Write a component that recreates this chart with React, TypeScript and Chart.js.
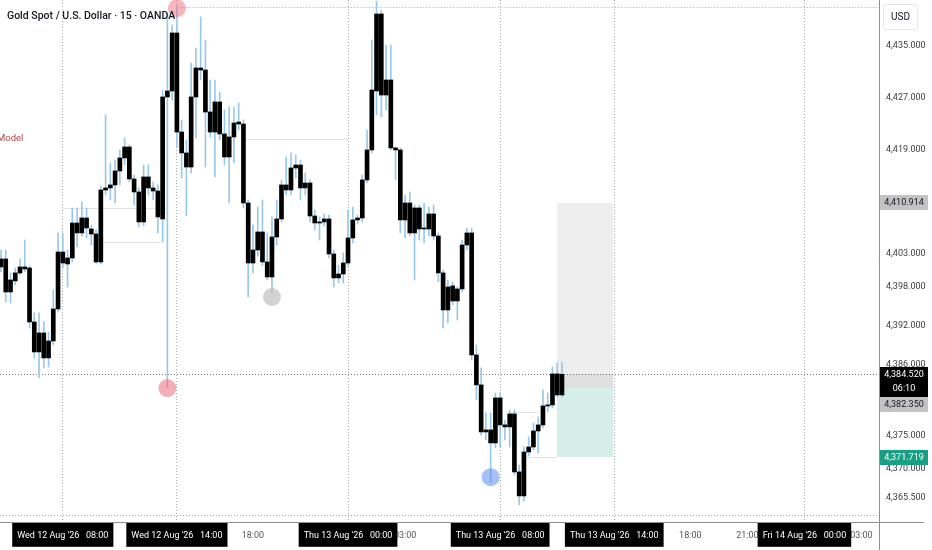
import React, { useEffect, useRef } from "react";
import { Chart, registerables } from "chart.js";

Chart.register(...registerables);

// ---- candle data (15 min, Gold Spot / USD) ----
const opens = [
  4401.02, 4402.25, 4397.17, 4398.87, 4400.10, 4401.02, 4400.86, 4392.56, 4387.95, 4390.87,
  4387.03, 4389.64, 4394.56, 4403.32, 4401.48, 4402.40, 4407.78, 4406.25, 4408.55, 4406.86,
  4406.09, 4401.79, 4412.86, 4413.17, 4413.63, 4415.78, 4417.78, 4419.47, 4414.55, 4412.55,
  4407.94, 4414.86, 4413.17, 4412.70, 4408.40, 4427.16, 4428.08, 4437.00, 4421.77, 4418.55,
  4416.39, 4427.16, 4431.62, 4431.31, 4424.85, 4421.77, 4426.39, 4421.47, 4417.93, 4421.01,
  4423.00, 4423.00, 4410.86, 4401.63, 4403.63, 4406.40, 4401.79, 4399.48, 4405.63, 4408.40,
  4413.63, 4412.86, 4416.24, 4416.70, 4413.17, 4413.93, 4408.86, 4407.78, 4407.94, 4408.40,
  4403.02, 4399.33, 4399.94, 4401.63, 4405.48, 4408.25, 4408.55, 4414.40, 4419.01, 4428.08,
  4439.92, 4427.46, 4429.77, 4419.32, 4419.01, 4408.25, 4410.86, 4406.25, 4410.09, 4406.86,
  4406.86, 4409.17, 4405.78, 4400.10, 4394.41, 4398.10, 4395.79, 4397.64, 4404.40, 4406.25,
  4387.49, 4382.88, 4375.65, 4375.96, 4373.96, 4380.88, 4376.73, 4376.42, 4378.42, 4369.50,
  4365.81, 4372.57, 4373.34, 4375.80, 4376.73, 4379.65, 4379.80, 4384.57, 4381.34,
];
const closes = [
  4402.25, 4397.17, 4399.02, 4400.10, 4401.02, 4400.71, 4392.56, 4387.95, 4390.87, 4387.03,
  4389.64, 4394.56, 4403.32, 4401.63, 4402.40, 4407.78, 4406.25, 4408.55, 4407.01, 4406.09,
  4401.79, 4412.86, 4413.17, 4413.63, 4415.78, 4417.78, 4419.47, 4414.55, 4412.55, 4407.94,
  4414.86, 4413.17, 4412.70, 4408.71, 4427.16, 4428.08, 4437.00, 4421.77, 4418.55, 4416.39,
  4427.16, 4431.62, 4431.31, 4424.85, 4421.77, 4426.39, 4421.47, 4417.93, 4421.01, 4423.16,
  4423.31, 4410.86, 4401.63, 4403.63, 4406.40, 4401.79, 4399.48, 4405.63, 4408.40, 4413.63,
  4412.86, 4416.24, 4416.70, 4413.17, 4413.93, 4408.86, 4407.78, 4407.94, 4408.40, 4403.02,
  4399.33, 4399.94, 4401.63, 4405.48, 4408.25, 4408.55, 4414.40, 4419.01, 4428.23, 4439.92,
  4427.46, 4429.77, 4419.32, 4419.01, 4408.25, 4410.86, 4406.25, 4410.09, 4406.86, 4407.01,
  4409.17, 4405.78, 4400.10, 4394.41, 4397.94, 4395.79, 4397.64, 4404.40, 4406.25, 4387.49,
  4382.88, 4375.65, 4375.96, 4373.96, 4380.88, 4376.73, 4376.42, 4378.42, 4369.50, 4365.81,
  4372.57, 4373.34, 4375.80, 4376.73, 4379.65, 4379.80, 4384.57, 4381.34, 4384.52,
];
const highs = [
  4403.63, 4403.63, 4400.10, 4400.86, 4402.25, 4405.17, 4401.17, 4393.95, 4393.95, 4392.56,
  4391.03, 4397.48, 4406.25, 4406.25, 4403.63, 4410.09, 4410.09, 4411.01, 4410.09, 4407.48,
  4406.71, 4413.47, 4424.39, 4417.01, 4417.47, 4419.01, 4420.85, 4419.78, 4415.16, 4413.17,
  4416.70, 4416.70, 4414.09, 4413.63, 4428.23, 4440.07, 4438.23, 4441.30, 4423.62, 4420.55,
  4432.38, 4434.69, 4439.46, 4435.92, 4429.77, 4429.77, 4427.92, 4425.16, 4425.62, 4425.62,
  4426.23, 4423.62, 4411.32, 4407.48, 4410.24, 4411.32, 4406.25, 4408.71, 4411.32, 4414.40,
  4417.93, 4418.55, 4418.24, 4417.47, 4415.47, 4414.40, 4409.78, 4408.71, 4409.17, 4409.01,
  4403.63, 4401.33, 4403.17, 4409.78, 4410.24, 4409.01, 4415.16, 4422.08, 4435.92, 4441.90,
  4440.53, 4435.15, 4435.15, 4419.47, 4419.32, 4412.09, 4412.55, 4410.55, 4410.55, 4410.86,
  4410.24, 4410.55, 4406.25, 4400.56, 4399.02, 4398.71, 4397.94, 4405.17, 4407.01, 4407.01,
  4389.03, 4385.49, 4378.57, 4378.57, 4381.65, 4381.65, 4377.49, 4379.03, 4379.03, 4370.58,
  4373.34, 4374.88, 4377.03, 4377.96, 4382.11, 4381.65, 4385.64, 4386.26, 4386.41,
];
const lows = [
  4400.25, 4395.64, 4395.48, 4398.25, 4399.79, 4400.25, 4391.64, 4387.03, 4383.95, 4385.49,
  4385.64, 4389.03, 4394.10, 4400.86, 4397.94, 4401.79, 4404.09, 4405.78, 4405.48, 4404.40,
  4401.48, 4401.48, 4412.09, 4411.32, 4410.86, 4413.63, 4416.70, 4414.09, 4410.55, 4407.17,
  4407.32, 4412.09, 4411.32, 4406.25, 4404.86, 4382.42, 4426.70, 4419.47, 4414.70, 4408.86,
  4415.47, 4420.85, 4429.77, 4416.39, 4421.01, 4414.86, 4420.55, 4416.70, 4410.86, 4417.01,
  4422.08, 4410.09, 4396.40, 4400.10, 4402.71, 4401.17, 4399.02, 4397.02, 4404.40, 4407.94,
  4412.09, 4412.09, 4414.70, 4411.32, 4412.09, 4407.94, 4406.71, 4405.17, 4407.32, 4402.40,
  4397.94, 4398.56, 4398.56, 4401.17, 4404.71, 4407.63, 4407.94, 4413.93, 4418.55, 4424.39,
  4424.08, 4425.16, 4419.01, 4414.40, 4406.25, 4405.48, 4405.78, 4399.02, 4405.17, 4404.71,
  4405.78, 4405.17, 4398.71, 4391.64, 4392.41, 4395.18, 4392.87, 4397.17, 4403.63, 4386.72,
  4380.57, 4375.19, 4374.42, 4367.81, 4373.19, 4373.34, 4374.42, 4373.34, 4369.04, 4364.43,
  4365.04, 4371.96, 4372.88, 4372.42, 4376.27, 4378.72, 4379.34, 4381.03, 4381.03,
];

// ---- time axis (bar index -> label) ----
const xMin = -0.21;
const xMax = 184.69;
const timeTickIndex = [13, 37, 53, 73, 85, 105, 129, 145, 157, 169, 181];
const timeTickLabels = [
  "Wed 12 Aug '26   08:00", "Wed 12 Aug '26   14:00", "18:00", "Thu 13 Aug '26   00:00", "03:00",
  "Thu 13 Aug '26   08:00", "Thu 13 Aug '26   14:00", "18:00", "21:00", "Fri 14 Aug '26   00:00", "03:00",
];
const markedTickIndex = [13, 37, 73, 105, 129, 169];

// ---- price axis ----
const yMin = 4361.8;
const yMax = 4442.07;
const priceTicks = [4365.5, 4370, 4375, 4386, 4392, 4398, 4403, 4419, 4427, 4435];

// ---- swing markers ----
const swingIndex = [37, 35, 57, 103];
const swingPrices = [4440.8, 4382.4, 4396.4, 4368.7];
const swingColors = ["rgba(236,120,132,0.55)", "rgba(236,120,132,0.6)", "rgba(180,180,180,0.6)", "rgba(90,140,240,0.55)"];

// ---- drawn levels ----
const levelStart = [51.3, 13, 21, 107, 110.5];
const levelEnd = [73, 35, 34, 113, 117];
const levelPrices = [4420.7, 4410.1, 4404.8, 4378.7, 4371.8];
const dottedStart = [37.6, xMin];
const dottedPrices = [4441.0, 4362.9];

// ---- position tool & price tags ----
const lastPrice = 4384.52;
const countdown = "06:10";
const targetPrice = 4410.914;
const entryPrice = 4382.35;
const stopPrice = 4371.719;
const positionStart = 117;
const positionEnd = 128.7;

const title = "Gold Spot / U.S. Dollar · 15 · OANDA";
const indicatorName = "Model";

const FONT = "Roboto, 'DejaVu Sans', sans-serif";
const fmt = (v: number) =>
  v.toLocaleString("en-US", { minimumFractionDigits: 3, maximumFractionDigits: 3 });

const overlayPlugin = {
  id: "overlays",
  beforeDraw(chart: any) {
    const { ctx } = chart;
    ctx.save();
    ctx.fillStyle = "#ffffff";
    ctx.fillRect(0, 0, chart.width, chart.height);
    ctx.restore();
  },
  beforeDatasetsDraw(chart: any) {
    const { ctx, chartArea: ca, scales } = chart;
    const x = scales.x;
    const y = scales.y;
    ctx.save();
    const px0 = Math.round(x.getPixelForValue(positionStart));
    const px1 = Math.round(x.getPixelForValue(positionEnd));
    const yT = Math.round(y.getPixelForValue(targetPrice));
    const yE = Math.round(y.getPixelForValue(entryPrice));
    const yL = Math.round(y.getPixelForValue(lastPrice));
    const yS = Math.round(y.getPixelForValue(stopPrice));
    ctx.fillStyle = "#eeeeee";
    ctx.fillRect(px0, yT, px1 - px0, yE - yT);
    ctx.fillStyle = "#e0e0e0";
    ctx.fillRect(px0, yL, px1 - px0, yE - yL);
    ctx.fillStyle = "rgba(8,153,129,0.17)";
    ctx.fillRect(px0, yE, px1 - px0, yS - yE);

    // faint level lines
    ctx.strokeStyle = "#e2e2e2";
    ctx.lineWidth = 1;
    levelPrices.forEach((p, i) => {
      const yy = Math.round(y.getPixelForValue(p)) + 0.5;
      ctx.beginPath();
      ctx.moveTo(x.getPixelForValue(levelStart[i]), yy);
      ctx.lineTo(x.getPixelForValue(levelEnd[i]), yy);
      ctx.stroke();
    });

    // dotted horizontal lines
    ctx.setLineDash([1, 2]);
    ctx.strokeStyle = "#a8a8a8";
    dottedPrices.forEach((p, i) => {
      const yy = Math.round(y.getPixelForValue(p)) + 0.5;
      ctx.beginPath();
      ctx.moveTo(x.getPixelForValue(dottedStart[i]), yy);
      ctx.lineTo(ca.right, yy);
      ctx.stroke();
    });
    ctx.strokeStyle = "#6f6f6f";
    ctx.beginPath();
    ctx.moveTo(ca.left, yL + 0.5);
    ctx.lineTo(ca.right, yL + 0.5);
    ctx.stroke();
    ctx.restore();
  },
  afterDraw(chart: any) {
    const { ctx, chartArea: ca, scales } = chart;
    const x = scales.x;
    const y = scales.y;
    ctx.save();
    // axis line extensions
    ctx.strokeStyle = "#8f8f8f";
    ctx.lineWidth = 1;
    ctx.beginPath();
    ctx.moveTo(ca.right + 0.5, ca.bottom);
    ctx.lineTo(ca.right + 0.5, chart.height);
    ctx.moveTo(ca.right, ca.bottom + 0.5);
    ctx.lineTo(ca.right + 45, ca.bottom + 0.5);
    ctx.stroke();

    const tagX = ca.right + 1;
    const tagW = 48;
    const drawTag = (cy: number, h: number, bg: string, fg: string, lines: string[]) => {
      ctx.fillStyle = bg;
      ctx.fillRect(tagX, Math.round(cy - 7.5), tagW, h);
      ctx.fillStyle = fg;
      ctx.font = `9px ${FONT}`;
      ctx.textAlign = "center";
      ctx.textBaseline = "middle";
      lines.forEach((t, i) => ctx.fillText(t, tagX + tagW / 2, cy + i * 14));
    };
    const cT = y.getPixelForValue(targetPrice);
    drawTag(cT, 15, "#c3c3c3", "#131722", [fmt(targetPrice)]);
    const cL = y.getPixelForValue(lastPrice);
    drawTag(cL, 30, "#000000", "#ffffff", [fmt(lastPrice), countdown]);
    let cE = y.getPixelForValue(entryPrice);
    const lastBottom = Math.round(cL - 7.5) + 30;
    if (cE - 7.5 < lastBottom) cE = lastBottom + 7.5;
    drawTag(cE, 15, "#c3c3c3", "#131722", [fmt(entryPrice)]);
    const cS = y.getPixelForValue(stopPrice);
    drawTag(cS, 15, "#16a085", "#ffffff", [fmt(stopPrice)]);

    // currency box
    ctx.strokeStyle = "#e3e5ea";
    ctx.beginPath();
    ctx.roundRect(ca.right + 4.5, 4.5, 34, 25, 3);
    ctx.stroke();
    ctx.fillStyle = "#131722";
    ctx.font = `10px ${FONT}`;
    ctx.textAlign = "center";
    ctx.textBaseline = "middle";
    ctx.fillText("USD", ca.right + 21.5, 17);

    // title
    ctx.textAlign = "left";
    ctx.font = `500 10.5px ${FONT}`;
    ctx.fillStyle = "#131722";
    ctx.fillText(title, 7, 16);

    // indicator label
    ctx.font = `9.5px ${FONT}`;
    ctx.fillStyle = "#b8414a";
    ctx.fillText(indicatorName, x.getPixelForValue(xMin) - 3, y.getPixelForValue(levelPrices[0]));
    ctx.restore();
  },
};

export default function App() {
  const ref = useRef<HTMLCanvasElement | null>(null);
  useEffect(() => {
    if (!ref.current) return;
    const chart = new Chart(ref.current, {
      type: "bar",
      data: {
        datasets: [
          {
            type: "scatter",
            data: swingIndex.map((v, i) => ({ x: v, y: swingPrices[i] })),
            backgroundColor: swingColors,
            pointRadius: 9,
            pointHoverRadius: 9,
            borderWidth: 0,
            order: 0,
          } as any,
          {
            type: "bar",
            data: opens.map((o, i) => ({ x: i, y: [o, closes[i]] })),
            backgroundColor: "#000000",
            barThickness: 4,
            grouped: false,
            minBarLength: 1,
            order: 1,
          } as any,
          {
            type: "bar",
            data: highs.map((h, i) => ({ x: i, y: [lows[i], h] })),
            backgroundColor: "#98c8e8",
            barThickness: 1,
            grouped: false,
            order: 2,
          } as any,
        ],
      },
      options: {
        responsive: false,
        animation: false,
        devicePixelRatio: 1,
        events: [],
        layout: { padding: 0, autoPadding: false } as any,
        plugins: { legend: { display: false }, tooltip: { enabled: false } },
        scales: {
          x: {
            type: "linear",
            min: xMin,
            max: xMax,
            offset: false,
            afterBuildTicks: (s: any) => {
              const plain = timeTickIndex.filter((v) => !markedTickIndex.includes(v));
              const boxed = timeTickIndex.filter((v) => markedTickIndex.includes(v));
              s.ticks = [...plain, ...boxed].map((v) => ({ value: v }));
            },
            afterFit: (s: any) => {
              s.height = 28;
              s.paddingLeft = 0;
              s.paddingRight = 0;
            },
            grid: {
              offset: false,
              drawTicks: false,
              lineWidth: 1,
              color: (c: any) =>
                c.tick && markedTickIndex.includes(c.tick.value) ? "#a9a9a9" : "rgba(0,0,0,0)",
            },
            border: { display: true, color: "#8f8f8f", dash: [1, 2] },
            ticks: {
              autoSkip: false,
              maxRotation: 0,
              padding: 8,
              font: { size: 9, family: FONT },
              color: (c: any) => (c.tick && markedTickIndex.includes(c.tick.value) ? "#ffffff" : "#555555"),
              showLabelBackdrop: (c: any) => !!(c.tick && markedTickIndex.includes(c.tick.value)),
              backdropColor: "#000000",
              backdropPadding: { left: 5, right: 5, top: 7, bottom: 6 },
              callback: (v: any) => {
                const k = timeTickIndex.indexOf(Number(v));
                return k >= 0 ? timeTickLabels[k] : "";
              },
            } as any,
          },
          y: {
            type: "linear",
            position: "right",
            min: yMin,
            max: yMax,
            afterBuildTicks: (s: any) => {
              s.ticks = priceTicks.map((v) => ({ value: v }));
            },
            afterFit: (s: any) => {
              s.width = 53;
              s.paddingTop = 0;
              s.paddingBottom = 0;
            },
            grid: { display: false, drawTicks: false },
            border: { display: true, color: "#8f8f8f" },
            ticks: {
              padding: 7,
              font: { size: 9, family: FONT },
              color: "#3c3c3c",
              callback: (v: any) => fmt(Number(v)),
            },
          },
        },
      } as any,
      plugins: [overlayPlugin],
    });
    return () => chart.destroy();
  }, []);

  return (
    <div style={{ position: "fixed", left: 0, top: 0, width: 932, height: 550, background: "#fff" }}>
      <canvas ref={ref} width={932} height={550} style={{ display: "block" }} />
    </div>
  );
}
